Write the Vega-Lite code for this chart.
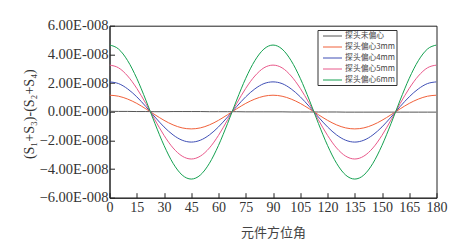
{
  "$schema": "https://vega.github.io/schema/vega-lite/v6.json",
  "autosize": "none",
  "width": 327,
  "height": 172,
  "padding": {"left": 109.5, "top": 25.7, "right": 18.5, "bottom": 43.3},
  "background": "white",
  "data": {
    "values": [
      {"angle": 0, "探头未偏心": 0.03e-8, "探头偏心3mm": 1.15e-8, "探头偏心4mm": 2.08e-8, "探头偏心5mm": 3.25e-8, "探头偏心6mm": 4.65e-8},
      {"angle": 5, "探头未偏心": 0.02e-8, "探头偏心3mm": 1.08e-8, "探头偏心4mm": 1.96e-8, "探头偏心5mm": 3.06e-8, "探头偏心6mm": 4.37e-8},
      {"angle": 10, "探头未偏心": 0.02e-8, "探头偏心3mm": 0.88e-8, "探头偏心4mm": 1.59e-8, "探头偏心5mm": 2.49e-8, "探头偏心6mm": 3.56e-8},
      {"angle": 15, "探头未偏心": 0.01e-8, "探头偏心3mm": 0.58e-8, "探头偏心4mm": 1.04e-8, "探头偏心5mm": 1.63e-8, "探头偏心6mm": 2.33e-8},
      {"angle": 20, "探头未偏心": 0.01e-8, "探头偏心3mm": 0.20e-8, "探头偏心4mm": 0.36e-8, "探头偏心5mm": 0.57e-8, "探头偏心6mm": 0.81e-8},
      {"angle": 25, "探头未偏心": 0.0, "探头偏心3mm": -0.21e-8, "探头偏心4mm": -0.37e-8, "探头偏心5mm": -0.57e-8, "探头偏心6mm": -0.82e-8},
      {"angle": 30, "探头未偏心": 0.0, "探头偏心3mm": -0.60e-8, "探头偏心4mm": -1.06e-8, "探头偏心5mm": -1.65e-8, "探头偏心6mm": -2.35e-8},
      {"angle": 35, "探头未偏心": 0.01e-8, "探头偏心3mm": -0.92e-8, "探头偏心4mm": -1.62e-8, "探头偏心5mm": -2.53e-8, "探头偏心6mm": -3.60e-8},
      {"angle": 40, "探头未偏心": 0.01e-8, "探头偏心3mm": -1.13e-8, "探头偏心4mm": -1.99e-8, "探头偏心5mm": -3.10e-8, "探头偏心6mm": -4.42e-8},
      {"angle": 45, "探头未偏心": 0.01e-8, "探头偏心3mm": -1.20e-8, "探头偏心4mm": -2.12e-8, "探头偏心5mm": -3.30e-8, "探头偏心6mm": -4.70e-8},
      {"angle": 50, "探头未偏心": 0.01e-8, "探头偏心3mm": -1.13e-8, "探头偏心4mm": -1.99e-8, "探头偏心5mm": -3.10e-8, "探头偏心6mm": -4.42e-8},
      {"angle": 55, "探头未偏心": 0.0, "探头偏心3mm": -0.92e-8, "探头偏心4mm": -1.62e-8, "探头偏心5mm": -2.53e-8, "探头偏心6mm": -3.60e-8},
      {"angle": 60, "探头未偏心": 0.0, "探头偏心3mm": -0.60e-8, "探头偏心4mm": -1.06e-8, "探头偏心5mm": -1.65e-8, "探头偏心6mm": -2.35e-8},
      {"angle": 65, "探头未偏心": 0.0, "探头偏心3mm": -0.21e-8, "探头偏心4mm": -0.37e-8, "探头偏心5mm": -0.57e-8, "探头偏心6mm": -0.82e-8},
      {"angle": 70, "探头未偏心": 0.0, "探头偏心3mm": 0.20e-8, "探头偏心4mm": 0.36e-8, "探头偏心5mm": 0.57e-8, "探头偏心6mm": 0.81e-8},
      {"angle": 75, "探头未偏心": -0.01e-8, "探头偏心3mm": 0.58e-8, "探头偏心4mm": 1.04e-8, "探头偏心5mm": 1.63e-8, "探头偏心6mm": 2.33e-8},
      {"angle": 80, "探头未偏心": -0.01e-8, "探头偏心3mm": 0.88e-8, "探头偏心4mm": 1.59e-8, "探头偏心5mm": 2.49e-8, "探头偏心6mm": 3.56e-8},
      {"angle": 85, "探头未偏心": -0.01e-8, "探头偏心3mm": 1.08e-8, "探头偏心4mm": 1.96e-8, "探头偏心5mm": 3.06e-8, "探头偏心6mm": 4.37e-8},
      {"angle": 90, "探头未偏心": -0.01e-8, "探头偏心3mm": 1.15e-8, "探头偏心4mm": 2.08e-8, "探头偏心5mm": 3.25e-8, "探头偏心6mm": 4.65e-8},
      {"angle": 95, "探头未偏心": -0.01e-8, "探头偏心3mm": 1.08e-8, "探头偏心4mm": 1.96e-8, "探头偏心5mm": 3.06e-8, "探头偏心6mm": 4.37e-8},
      {"angle": 100, "探头未偏心": -0.02e-8, "探头偏心3mm": 0.88e-8, "探头偏心4mm": 1.59e-8, "探头偏心5mm": 2.49e-8, "探头偏心6mm": 3.56e-8},
      {"angle": 105, "探头未偏心": -0.02e-8, "探头偏心3mm": 0.58e-8, "探头偏心4mm": 1.04e-8, "探头偏心5mm": 1.63e-8, "探头偏心6mm": 2.33e-8},
      {"angle": 110, "探头未偏心": -0.02e-8, "探头偏心3mm": 0.20e-8, "探头偏心4mm": 0.36e-8, "探头偏心5mm": 0.57e-8, "探头偏心6mm": 0.81e-8},
      {"angle": 115, "探头未偏心": -0.02e-8, "探头偏心3mm": -0.21e-8, "探头偏心4mm": -0.37e-8, "探头偏心5mm": -0.57e-8, "探头偏心6mm": -0.82e-8},
      {"angle": 120, "探头未偏心": -0.02e-8, "探头偏心3mm": -0.60e-8, "探头偏心4mm": -1.06e-8, "探头偏心5mm": -1.65e-8, "探头偏心6mm": -2.35e-8},
      {"angle": 125, "探头未偏心": -0.02e-8, "探头偏心3mm": -0.92e-8, "探头偏心4mm": -1.62e-8, "探头偏心5mm": -2.53e-8, "探头偏心6mm": -3.60e-8},
      {"angle": 130, "探头未偏心": -0.03e-8, "探头偏心3mm": -1.13e-8, "探头偏心4mm": -1.99e-8, "探头偏心5mm": -3.10e-8, "探头偏心6mm": -4.42e-8},
      {"angle": 135, "探头未偏心": -0.03e-8, "探头偏心3mm": -1.20e-8, "探头偏心4mm": -2.12e-8, "探头偏心5mm": -3.30e-8, "探头偏心6mm": -4.70e-8},
      {"angle": 140, "探头未偏心": -0.03e-8, "探头偏心3mm": -1.13e-8, "探头偏心4mm": -1.99e-8, "探头偏心5mm": -3.10e-8, "探头偏心6mm": -4.42e-8},
      {"angle": 145, "探头未偏心": -0.03e-8, "探头偏心3mm": -0.92e-8, "探头偏心4mm": -1.62e-8, "探头偏心5mm": -2.53e-8, "探头偏心6mm": -3.60e-8},
      {"angle": 150, "探头未偏心": -0.03e-8, "探头偏心3mm": -0.60e-8, "探头偏心4mm": -1.06e-8, "探头偏心5mm": -1.65e-8, "探头偏心6mm": -2.35e-8},
      {"angle": 155, "探头未偏心": -0.03e-8, "探头偏心3mm": -0.21e-8, "探头偏心4mm": -0.37e-8, "探头偏心5mm": -0.57e-8, "探头偏心6mm": -0.82e-8},
      {"angle": 160, "探头未偏心": -0.03e-8, "探头偏心3mm": 0.20e-8, "探头偏心4mm": 0.36e-8, "探头偏心5mm": 0.57e-8, "探头偏心6mm": 0.81e-8},
      {"angle": 165, "探头未偏心": -0.03e-8, "探头偏心3mm": 0.58e-8, "探头偏心4mm": 1.04e-8, "探头偏心5mm": 1.63e-8, "探头偏心6mm": 2.33e-8},
      {"angle": 170, "探头未偏心": -0.03e-8, "探头偏心3mm": 0.88e-8, "探头偏心4mm": 1.59e-8, "探头偏心5mm": 2.49e-8, "探头偏心6mm": 3.56e-8},
      {"angle": 175, "探头未偏心": -0.03e-8, "探头偏心3mm": 1.08e-8, "探头偏心4mm": 1.96e-8, "探头偏心5mm": 3.06e-8, "探头偏心6mm": 4.37e-8},
      {"angle": 180, "探头未偏心": -0.03e-8, "探头偏心3mm": 1.15e-8, "探头偏心4mm": 2.08e-8, "探头偏心5mm": 3.25e-8, "探头偏心6mm": 4.65e-8}
    ]
  },
  "transform": [
    {"fold": ["探头未偏心", "探头偏心3mm", "探头偏心4mm", "探头偏心5mm", "探头偏心6mm"], "as": ["series", "value"]}
  ],
  "mark": {"type": "line", "interpolate": "monotone", "strokeWidth": 1, "clip": true},
  "encoding": {
    "x": {
      "field": "angle", "type": "quantitative",
      "scale": {"domain": [0, 180], "nice": false},
      "axis": {
        "title": "元件方位角",
        "values": [0, 15, 30, 45, 60, 75, 90, 105, 120, 135, 150, 165, 180],
        "labelFont": "Liberation Serif", "labelFontSize": 14, "labelColor": "#333",
        "labelPadding": 8, "labelFlush": false,
        "tickSize": -5, "tickColor": "#222", "domainColor": "#222",
        "titleFont": "Noto Sans CJK SC", "titleFontSize": 13, "titleFontWeight": "normal", "titleColor": "#444",
        "titlePadding": 12, "grid": false
      }
    },
    "y": {
      "field": "value", "type": "quantitative",
      "scale": {"domain": [-6e-8, 6e-8], "nice": false},
      "axis": {
        "title": "(S₁+S₃)-(S₂+S₄)",
        "values": [-6e-8, -4e-8, -2e-8, 0, 2e-8, 4e-8, 6e-8],
        "labelExpr": "datum.value == 0 ? '0.00E-000' : format(datum.value * 1e8, '.2f') + 'E-008'",
        "labelFont": "Liberation Serif", "labelFontSize": 14.5, "labelColor": "#333",
        "labelPadding": 6.5, "labelFlush": false,
        "tickSize": -5, "tickColor": "#222", "domainColor": "#222",
        "titleFont": "Liberation Serif", "titleFontSize": 14, "titleFontWeight": "normal", "titleColor": "#333",
        "titleX": -80, "titleY": 88, "titleAngle": -90, "titleAlign": "center", "titleBaseline": "middle",
        "grid": false
      }
    },
    "color": {
      "field": "series", "type": "nominal",
      "scale": {
        "domain": ["探头未偏心", "探头偏心3mm", "探头偏心4mm", "探头偏心5mm", "探头偏心6mm"],
        "range": ["#555555", "#f0603a", "#3f4fb5", "#e8588a", "#14a050"]
      },
      "legend": {
        "title": null, "orient": "none", "legendX": 208, "legendY": 4.3,
        "strokeColor": "#333", "fillColor": "white", "padding": 1,
        "symbolType": "M-0.11,0H4.11", "symbolSize": 81, "symbolStrokeWidth": 1, "symbolFillColor": "transparent",
        "labelFont": "Noto Sans CJK SC", "labelFontSize": 7.8, "labelColor": "#444",
        "labelOffset": 16.6, "rowPadding": 2
      }
    }
  },
  "config": {
    "view": {"stroke": "#222", "strokeWidth": 1},
    "axis": {"domainWidth": 1, "tickWidth": 1}
  }
}
